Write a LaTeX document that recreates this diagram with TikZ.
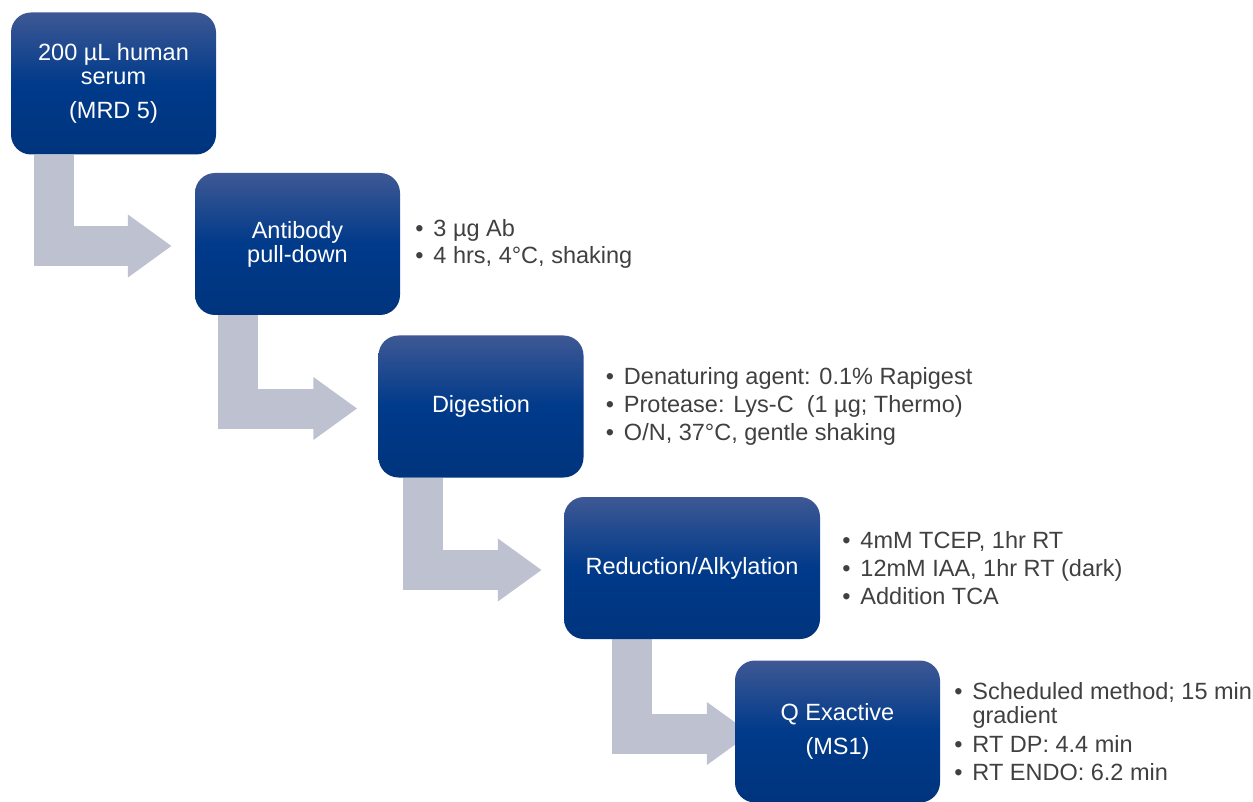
\documentclass[tikz,border=0pt]{standalone}
\usepackage{fontspec}
\setmainfont{Liberation Sans}
\usetikzlibrary{positioning,arrows.meta,backgrounds}
\definecolor{kotakatas}{RGB}{62,88,148}
\definecolor{kotaktengah}{RGB}{0,58,138}
\definecolor{kotakbawah}{RGB}{0,52,125}
\definecolor{panahabu}{RGB}{190,193,208}
\definecolor{teksabu}{RGB}{64,64,64}
\newcommand{\butir}{•\hspace{0.42em}}
\begin{document}
\begin{tikzpicture}[x=1pt,y=-1pt,
    tahap/.style={rounded corners=20pt,top color=kotakatas,
      bottom color=kotakbawah,middle color=kotaktengah,text=white,
      align=center,minimum width=205pt,minimum height=142pt,inner sep=0pt,
      font=\fontsize{23.5}{24}\selectfont},
    catatan/.style={align=left,inner sep=0pt,text=teksabu,
      font=\fontsize{23.5}{24}\selectfont},
    panah/.style={draw=panahabu,line width=40pt,
      -{Triangle[length=44pt,width=60pt]}}]

    \useasboundingbox (0,0) rectangle (1253,802);

    % Tahapan utama
    \node[tahap] (s1) at (113.5,83.5) {200 µL human\\serum\\[10pt](MRD 5)};
    \node[tahap] (s2) at (297.5,244) {Antibody\\pull-down};
    \node[tahap] (s3) at (481,406.5) {Digestion};
    \node[tahap,minimum width=256pt] (s4) at (692,568) {Reduction/Alkylation};
    \node[tahap] (s5) at (837.5,731.5) {Q Exactive\\[10pt](MS1)};

    % Catatan di samping
    \node[catatan,right=15pt of s2] (c2)
      {\butir 3 µg Ab\\[3pt]\butir 4 hrs, 4°C, shaking};
    \node[catatan,right=22pt of s3] (c3)
      {\butir Denaturing agent: 0.1\% Rapigest\\[4pt]
       \butir Protease: Lys-C\ \ (1 µg; Thermo)\\[4pt]
       \butir O/N, 37°C, gentle shaking};
    \node[catatan,right=22pt of s4] (c4)
      {\butir 4mM TCEP, 1hr RT\\[4pt]\butir 12mM IAA, 1hr RT (dark)\\[4pt]
       \butir Addition TCA};
    \node[catatan,right=14pt of s5] (c5)
      {\butir Scheduled method; 15 min\\\phantom{\butir}gradient\\[5pt]
       \butir RT DP: 4.4 min\\[4pt]\butir RT ENDO: 6.2 min};

    % Panah abu-abu di belakang kotak
    \begin{scope}[on background layer]
      \foreach \a/\b/\dx/\tx in {s1/s2/43/-23, s2/s3/43/-21,
                                 s3/s4/45/-22, s4/s5/68/16}
        {\draw[panah] ([xshift=\dx pt]\a.south west)
           |- ([xshift=\tx pt,yshift=-2pt]\b.west);}
    \end{scope}
  \end{tikzpicture}
\end{document}
